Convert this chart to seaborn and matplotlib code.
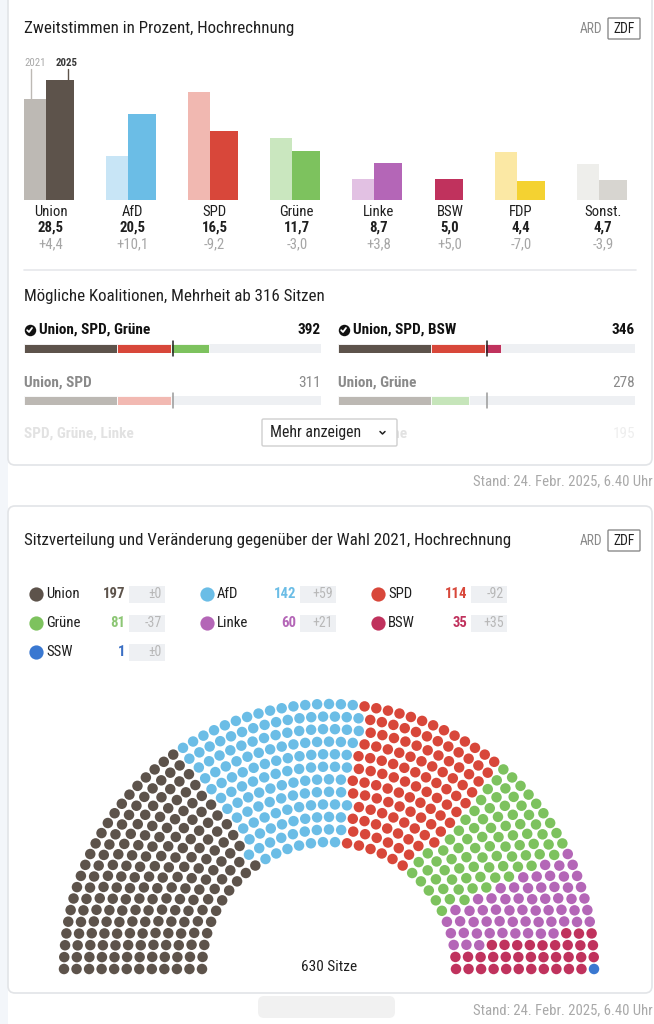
import numpy as np
import pandas as pd
import matplotlib
matplotlib.use("Agg")
import matplotlib.pyplot as plt
import seaborn as sns
from matplotlib.patches import FancyBboxPatch, Rectangle
from matplotlib import font_manager as fm

# ---------------- data ----------------
parties = ["Union", "AfD", "SPD", "Grüne", "Linke", "BSW", "FDP", "Sonst."]
pct_2025 = [28.5, 20.5, 16.5, 11.7, 8.7, 5.0, 4.4, 4.7]
pct_2021 = [24.1, 10.4, 25.7, 14.7, 4.9, 0.0, 11.4, 8.6]

seat_parties = ["Union", "AfD", "SPD", "Grüne", "Linke", "BSW", "SSW"]
seats = [197, 142, 114, 81, 60, 35, 1]
seat_change = [0, 59, -92, -37, 21, 35, 0]
total_seats = 630
majority = 316

coal_left = [["Union", "SPD", "Grüne"], ["Union", "SPD"], ["SPD", "Grüne", "Linke"]]
coal_right = [["Union", "SPD", "BSW"], ["Union", "Grüne"], ["SPD", "Grüne"]]

stand_text = "Stand: 24. Febr. 2025, 6.40 Uhr"

# ---------------- style ----------------
col25 = {"Union": "#5d534b", "AfD": "#6bbde6", "SPD": "#d8473a", "Grüne": "#7dc25e",
         "Linke": "#b466b7", "BSW": "#c0325d", "FDP": "#f4d231", "Sonst.": "#d7d5d0",
         "SSW": "#3a78d1"}
col21 = {"Union": "#bdb9b4", "AfD": "#c8e5f6", "SPD": "#f1b8b1", "Grüne": "#cae7bf",
         "Linke": "#e2c1e3", "BSW": "#e8b3c3", "FDP": "#fbe8a4", "Sonst.": "#eeeeeb"}
col_light = {"Union": "#bcb8b3", "SPD": "#f2b9b2", "Grüne": "#c6e5ba", "BSW": "#e8b3c3",
             "Linke": "#e2c1e3"}
num_col = {"Union": "#5d534b", "AfD": "#6bbde6", "SPD": "#d8473a", "Grüne": "#8cc674",
           "Linke": "#b466b7", "BSW": "#c0325d", "SSW": "#3a6fc4"}

sns.set_theme(style="white")
avail = {f.name for f in fm.fontManager.ttflist}
FONT = next((f for f in ["Liberation Sans Narrow", "Roboto Condensed", "Roboto", "Noto Sans", "DejaVu Sans"]
             if f in avail), "DejaVu Sans")
plt.rcParams["font.family"] = [FONT, "DejaVu Sans"]

W, H = 654, 1024
fig = plt.figure(figsize=(W / 100, H / 100), dpi=100)
fig.patch.set_facecolor("white")


def px_axes(x0, y0, x1, y1, z=1):
    a = fig.add_axes([x0 / W, 1 - y1 / H, (x1 - x0) / W, (y1 - y0) / H])
    a.set_zorder(z)
    a.patch.set_alpha(0)
    return a


# background / cards
bg = px_axes(0, 0, W, H, z=0)
bg.set_xlim(0, W); bg.set_ylim(H, 0); bg.axis("off")
bg.add_patch(Rectangle((0, 0), 8, H, color="#f3f6fa", lw=0))
bg.add_patch(FancyBboxPatch((8, -20), 644, 485, boxstyle="round,pad=0,rounding_size=7",
                            fc="white", ec="#e2e4e7", lw=1.2))
bg.add_patch(FancyBboxPatch((8, 506), 644, 487, boxstyle="round,pad=0,rounding_size=7",
                            fc="white", ec="#e2e4e7", lw=1.2))
bg.add_patch(FancyBboxPatch((258, 996), 137, 22, boxstyle="round,pad=0,rounding_size=6",
                            fc="#f1f1f1", ec="none"))

# overlay for text
ov = px_axes(0, 0, W, H, z=5)
ov.set_xlim(0, W); ov.set_ylim(H, 0); ov.axis("off")

TITLE_FS = 12.2
LBL_FS = 10.6
DARK = "#1f1f1f"


def header(y, text):
    ov.text(24, y, text, fontsize=TITLE_FS, color=DARK, va="center", ha="left")
    ov.text(602, y + 1, "ARD", fontsize=9.8, color="#8a8a8a", va="center", ha="right")
    ov.add_patch(FancyBboxPatch((608, y - 10), 32, 21, boxstyle="round,pad=0,rounding_size=1",
                                fc="white", ec="#8c8c8c", lw=1))
    ov.text(624, y + 1, "ZDF", fontsize=9.8, color=DARK, va="center", ha="center")


header(28, "Zweitstimmen in Prozent, Hochrechnung")

# ---------------- top bar chart ----------------
W21, W25, GAPPX = 22.0, 28.0, 32.1     # bar widths / group gap in px
PX_PER_PCT = 4.21
bx0, bx1, btop, bbase = 24, 634, 60, 200
axb = px_axes(bx0, btop, bx1, bbase, z=2)
axb.set_xlim(0, bx1 - bx0)
axb.set_ylim(0, (bbase - btop) / PX_PER_PCT)
axb.axis("off")
p21 = np.array(pct_2021); p25 = np.array(pct_2025)
left21, left25 = [], []
xcur = 0.0
for v in p21:
    left21.append(xcur)
    l25 = xcur + (W21 if v > 0 else 0.0)
    left25.append(l25)
    xcur = l25 + W25 + GAPPX
left21 = np.array(left21); left25 = np.array(left25)
axb.bar(left21, p21, width=W21, align="edge", color=[col21[p] for p in parties], lw=0)
axb.bar(left25, p25, width=W25, align="edge", color=[col25[p] for p in parties], lw=0)

tr = axb.get_xaxis_transform()
for i, p in enumerate(parties):
    cx = (left21[i] + left25[i] + W25) / 2 + 1.5
    d = p25[i] - p21[i]
    dtxt = ("+" if d >= 0 else "-") + f"{abs(d):.1f}".replace(".", ",")
    for ypx, txt, kw in [(212, p, dict(color=DARK)),
                         (228, f"{p25[i]:.1f}".replace(".", ","), dict(color=DARK, fontweight="bold")),
                         (244, dtxt, dict(color="#a6a6a6"))]:
        axb.text(cx, (bbase - ypx) / (bbase - btop), txt, transform=tr, ha="center",
                 va="center", fontsize=LBL_FS, clip_on=False, **kw)

# year annotations on first group
ytxt = (bbase - 63.5) / PX_PER_PCT
yline = (bbase - 69) / PX_PER_PCT
x21 = left21[0] + W21 * 0.3
x25 = left25[0] + W25 * 0.8
axb.plot([x21, x21], [p21[0], yline], color="#bdb9b4", lw=1, clip_on=False)
axb.plot([x25, x25], [p25[0], yline], color="#5d534b", lw=1, clip_on=False)
axb.text(left21[0] + W21 * 0.5, ytxt, "2021", fontsize=7.8, color="#a9a9a9", ha="center",
         va="center", clip_on=False)
axb.text(left25[0] + W25 * 0.75, ytxt, "2025", fontsize=7.8, color="#3a3a3a", ha="center",
         va="center", fontweight="bold", clip_on=False)

# separator
ov.plot([24, 636], [270, 270], color="#e6e8eb", lw=1.2)

# ---------------- coalitions ----------------
ov.text(24, 297, "Mögliche Koalitionen, Mehrheit ab 316 Sitzen", fontsize=TITLE_FS,
        color=DARK, va="center")
seat_map = dict(zip(seat_parties, seats))
cols_x = [(24, 321), (338, 635)]
row_text_y = [330, 383, 434]
row_bar_y = [343.5, 395.5]
CO_FS = 11


def coalition(col, row, members):
    x0, x1 = cols_x[col]
    total = sum(seat_map[m] for m in members)
    ok = total >= majority
    label = ", ".join(members)
    ty = row_text_y[row]
    if row == 2:
        tcol, vcol = "#e2e2e2", "#eeeeee"
        ov.text(x0, ty, label, fontsize=CO_FS, color=tcol, va="center", fontweight="bold")
        ov.text(x1, ty, str(total), fontsize=CO_FS, color=vcol, va="center", ha="right")
        return
    if ok:
        ov.scatter([x0 + 5.5], [ty], s=68, color="#111111", zorder=6, lw=0)
        ov.plot([x0 + 3.2, x0 + 5.0, x0 + 8.0], [ty + 0.2, ty + 2.0, ty - 2.0],
                color="white", lw=1.3, zorder=7, solid_capstyle="round")
        ov.text(x0 + 15, ty, label, fontsize=CO_FS, color="#111111", va="center", fontweight="bold")
        ov.text(x1, ty, str(total), fontsize=CO_FS, color="#111111", va="center", ha="right",
                fontweight="bold")
    else:
        ov.text(x0, ty, label, fontsize=CO_FS, color="#8a8a8a", va="center", fontweight="bold")
        ov.text(x1, ty, str(total), fontsize=CO_FS, color="#8a8a8a", va="center", ha="right")
    by = row_bar_y[row]
    ab = px_axes(x0, by, x1, by + 9.5, z=3)
    ab.set_xlim(0, total_seats); ab.set_ylim(0, 1); ab.axis("off")
    ab.barh([0.5], [total_seats], height=1, color="#eef0f3", lw=0)
    left = 0
    for m in members:
        c = col25[m] if ok else col_light[m]
        ab.barh([0.5], [seat_map[m]], left=left, height=1, color=c, edgecolor="white", lw=0.6)
        left += seat_map[m]
    ab.plot([majority, majority], [-0.3, 1.3], color="#222222" if ok else "#9a9a9a",
            lw=1.1, clip_on=False)


for r, m in enumerate(coal_left):
    coalition(0, r, m)
for r, m in enumerate(coal_right):
    coalition(1, r, m)

# button
ov.add_patch(FancyBboxPatch((262, 419), 135, 27, boxstyle="round,pad=0,rounding_size=1.5",
                            fc="white", ec="#cfcfcf", lw=1, zorder=8))
ov.text(270, 433, "Mehr anzeigen", fontsize=11.3, color="#222222", va="center", zorder=9)
ov.plot([380, 382.5, 385], [431.5, 434, 431.5], color="#222222", lw=1.1, zorder=9)

# stand texts
ov.text(473, 481, stand_text, fontsize=10.6, color="#a9a9a9", va="center")
ov.text(473, 1010, stand_text, fontsize=10.6, color="#a9a9a9", va="center")

# ---------------- seat distribution ----------------
header(540, "Sitzverteilung und Veränderung gegenüber der Wahl 2021, Hochrechnung")

for i, (p, n, d) in enumerate(zip(seat_parties, seats, seat_change)):
    row, col = divmod(i, 3)
    xo = 171 * col
    y = 594 + 29 * row
    ov.scatter([36 + xo], [y], s=105, color=col25[p], lw=0)
    ov.text(46 + xo, y, p, fontsize=LBL_FS, color=DARK, va="center")
    ov.text(125 + xo, y, str(n), fontsize=LBL_FS, color=num_col[p], va="center", ha="right",
            fontweight="bold")
    ov.add_patch(Rectangle((129 + xo, y - 8.5), 36, 17, fc="#eef0f3", ec="none"))
    dtxt = "±0" if d == 0 else (f"+{d}" if d > 0 else f"-{abs(d)}")
    ov.text(162 + xo, y, dtxt, fontsize=10, color="#b8b8b8", va="center", ha="right")

# hemicycle (computed layout)
cx, cy = 329, 969
n_rows = 12
radii = np.linspace(127, 265, n_rows)
raw = total_seats * radii / radii.sum()
counts = np.floor(raw).astype(int)
rem = total_seats - counts.sum()
counts[np.argsort(-(raw - counts))[:rem]] += 1
th_list, r_list = [], []
for r, n in zip(radii, counts):
    th = np.pi * (1 - np.arange(n) / (n - 1))
    th_list.append(th); r_list.append(np.full(n, r))
th_all = np.concatenate(th_list); r_all = np.concatenate(r_list)
order = np.lexsort((r_all, -th_all))
th_all, r_all = th_all[order], r_all[order]
seat_party = np.repeat(seat_parties, seats)
df = pd.DataFrame({"x": r_all * np.cos(th_all), "y": r_all * np.sin(th_all), "party": seat_party})

ah = px_axes(30, 690, 630, 985, z=2)
sns.scatterplot(data=df, x="x", y="y", hue="party", palette=col25, s=57, linewidth=0,
                legend=False, ax=ah)
ah.set_xlim(30 - cx, 630 - cx); ah.set_ylim(cy - 985, cy - 690)
ah.axis("off")
ov.text(cx, 967, f"{total_seats} Sitze", fontsize=11, color=DARK, ha="center", va="center")

fig.savefig("out.png", dpi=100, facecolor="white")
